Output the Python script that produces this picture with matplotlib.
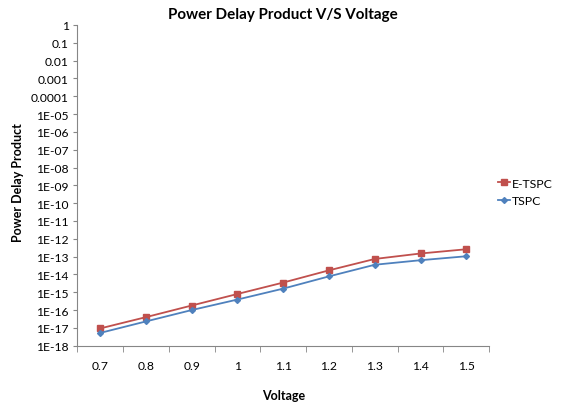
import numpy as np
import matplotlib.pyplot as plt
from matplotlib.ticker import FixedLocator, NullLocator

plt.rcParams['font.family'] = ['Lato', 'DejaVu Sans']

voltage = ['0.7', '0.8', '0.9', '1', '1.1', '1.2', '1.3', '1.4', '1.5']
e_tspc = [9.3e-18, 4.0e-17, 1.8e-16, 8.0e-16, 3.5e-15, 1.7e-14, 7.4e-14, 1.5e-13, 2.6e-13]
tspc = [5.2e-18, 2.3e-17, 1.0e-16, 3.9e-16, 1.6e-15, 7.8e-15, 3.5e-14, 6.3e-14, 1.05e-13]

exponents = list(range(0, -19, -1))
ytick_labels = ['1', '0.1', '0.01', '0.001', '0.0001'] + ['1E-%02d' % -e for e in exponents[5:]]

axis_gray = '#868686'
red = '#C0504D'
blue = '#4F81BD'

fig = plt.figure(figsize=(5.63, 4.06), dpi=100)
ax = fig.add_axes([0.137, 0.146, 0.732, 0.790])

x = np.arange(len(voltage))
ax.plot(x, e_tspc, color=red, marker='s', markersize=4.5, linewidth=1.3, label='E-TSPC')
ax.plot(x, tspc, color=blue, marker='D', markersize=3, linewidth=1.3, label='TSPC')

ax.set_yscale('log')
ax.set_ylim(1e-18, 1)
ax.yaxis.set_major_locator(FixedLocator([10.0 ** e for e in exponents]))
ax.yaxis.set_minor_locator(NullLocator())
ax.set_yticklabels(ytick_labels, fontsize=8.7)

ax.set_xlim(-0.5, len(voltage) - 0.5)
ax.set_xticks(x)
ax.set_xticklabels(voltage, fontsize=8.7)
ax.set_xticks(np.arange(-0.5, len(voltage), 1.0), minor=True)
ax.tick_params(axis='x', which='major', length=0, pad=10)
ax.tick_params(axis='x', which='minor', length=4, color=axis_gray, direction='out')
ax.tick_params(axis='y', which='major', length=3, color=axis_gray, direction='out', pad=3)

for side in ['top', 'right']:
    ax.spines[side].set_visible(False)
for side in ['left', 'bottom']:
    ax.spines[side].set_color(axis_gray)
    ax.spines[side].set_linewidth(0.8)

fig.text(0.503, 0.963, 'Power Delay Product V/S Voltage', ha='center', va='center',
         fontsize=10.9, fontweight='bold')
fig.text(0.503, 0.025, 'Voltage', ha='center', va='center', fontsize=9, fontweight='bold')
fig.text(0.032, 0.55, 'Power Delay Product', ha='center', va='center', rotation=90,
         fontsize=9, fontweight='bold')

leg = fig.legend(loc='upper left', bbox_to_anchor=(0.872, 0.578), frameon=False,
                 fontsize=8.8, handlelength=1.0, handletextpad=0.1, labelspacing=0.55,
                 borderaxespad=0.2)

fig.savefig('out.png', dpi=100)
